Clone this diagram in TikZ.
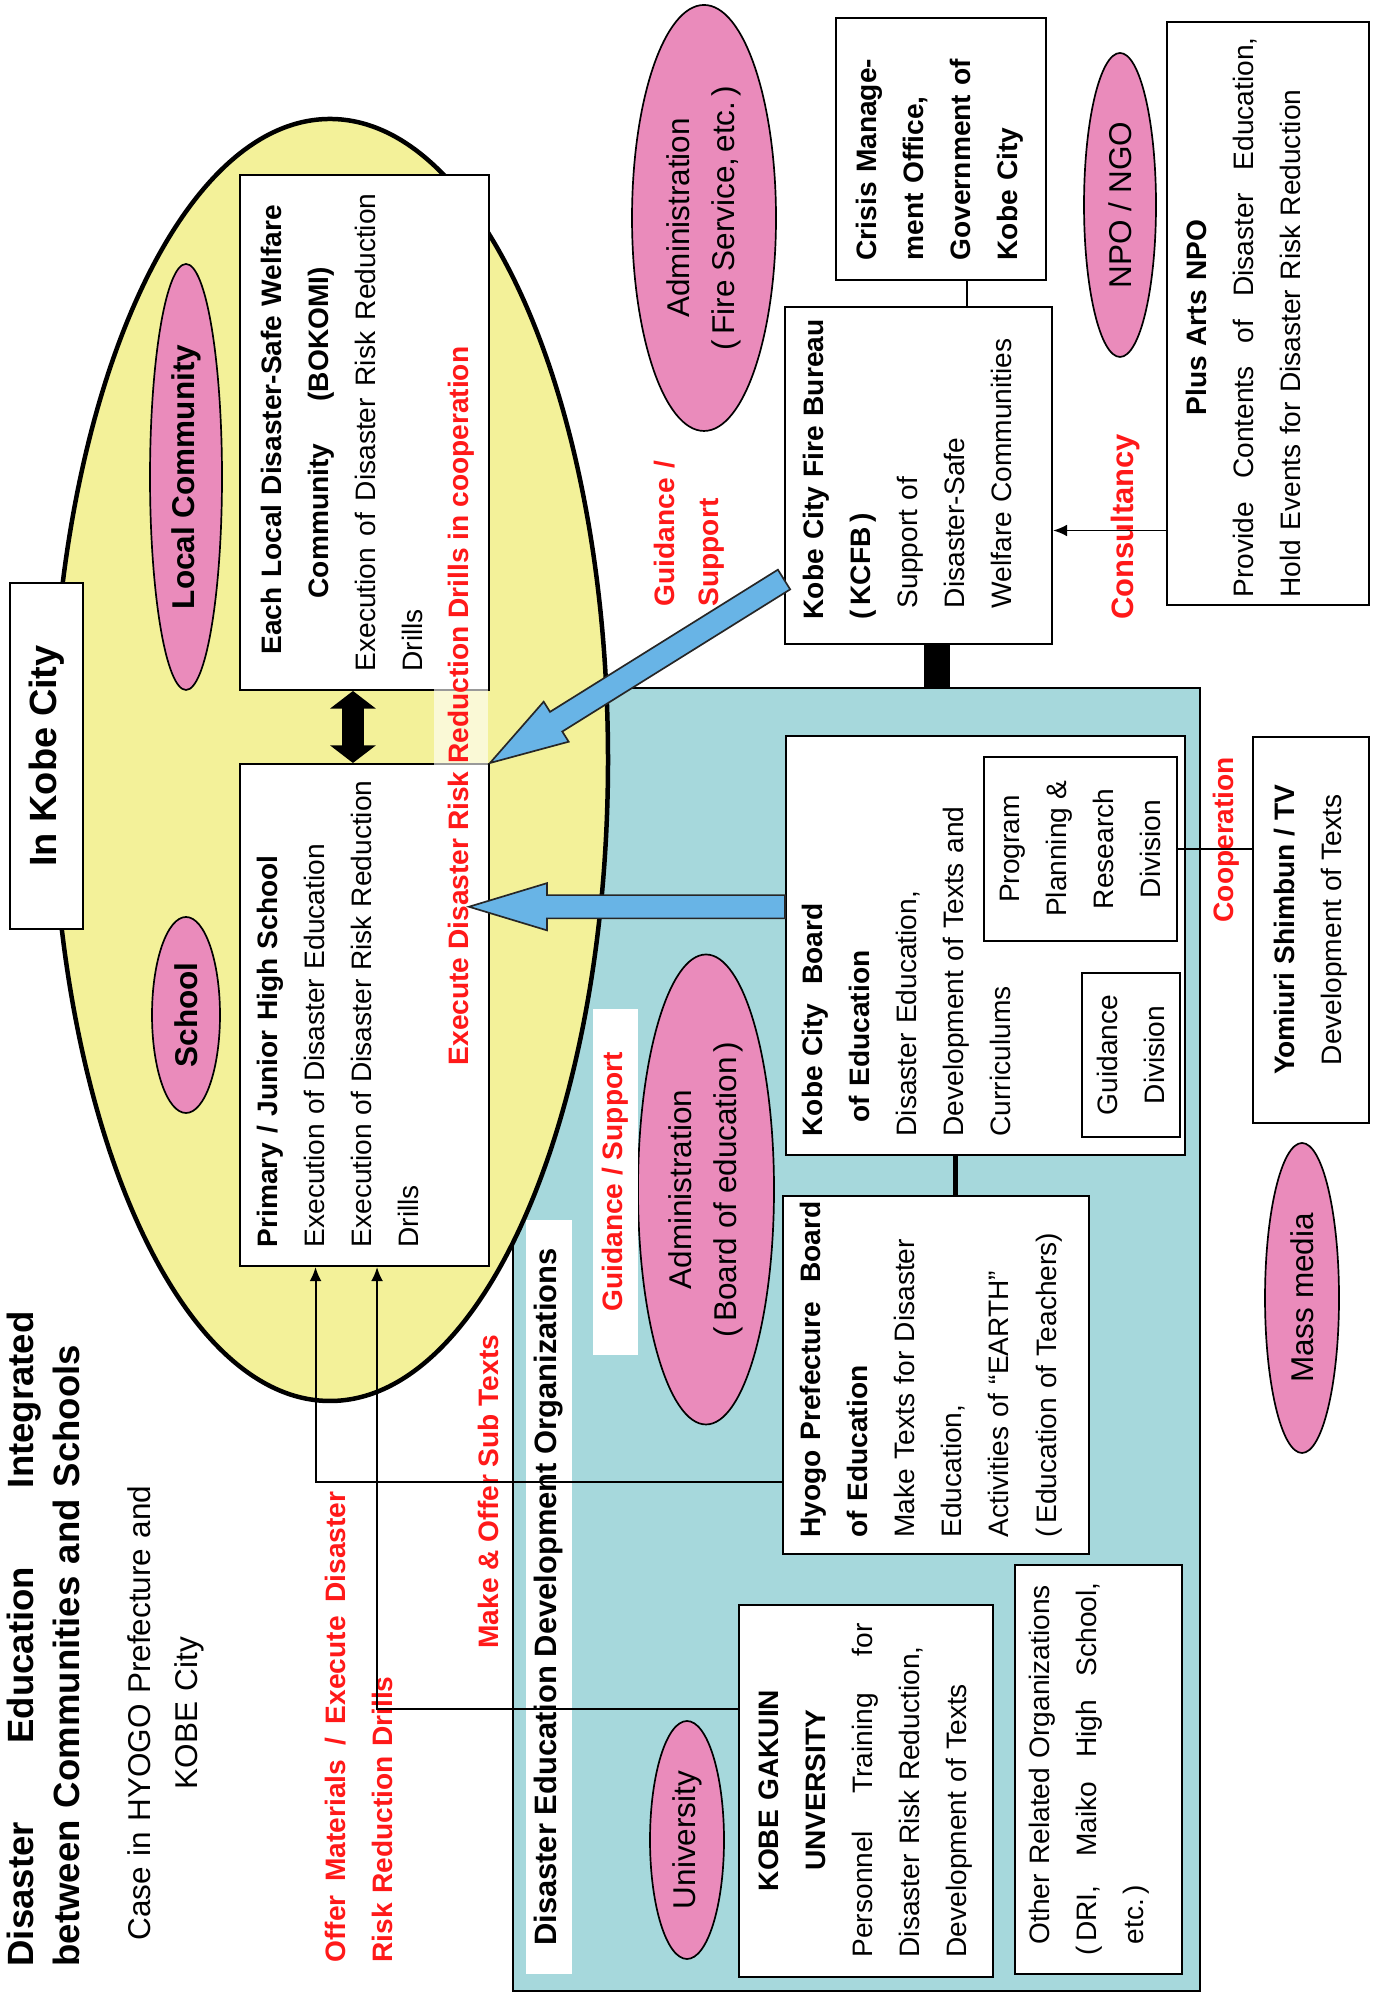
\documentclass[tikz,border=0pt]{standalone}
\usepackage{fontspec}
\setmainfont{Liberation Sans}
\usetikzlibrary{arrows.meta, shapes.geometric, calc}

\definecolor{areaYellow}{RGB}{243,241,153}
\definecolor{orgCyan}{RGB}{166,216,220}
\definecolor{rolePink}{RGB}{234,139,187}
\definecolor{arrowBlue}{RGB}{104,180,230}
\definecolor{labelRed}{RGB}{255,25,25}

\newcommand{\pxu}{0.125mm}
\newcommand{\jline}[1]{{\spaceskip=0pt\xspaceskip=0pt\makebox[\linewidth][s]{#1}}}

\tikzset{
    bodyFont/.style={font=\fontsize{10}{16.8}\selectfont},
    orgBox/.style={rectangle, draw, fill=white, line width=0.7pt, inner sep=0pt, align=center, bodyFont},
    boxText/.style={anchor=base west, inner sep=0pt, bodyFont},
    roleEll/.style={ellipse, draw, fill=rolePink, line width=0.6pt, inner sep=0pt, align=center, font=\fontsize{11.2}{16}\selectfont},
    redLabel/.style={text=labelRed, inner sep=0pt, font=\fontsize{10}{17}\selectfont\bfseries},
    thinLink/.style={line width=0.7pt},
    thinArrow/.style={thinLink, arrows={-Latex[length=5pt, width=4.2pt]}},
    thickLink/.style={line width=0.6mm},
    blockLink/.style={line width=3.25mm},
    twoWay/.style={line width=2.75mm, arrows={Triangle[length=2.2mm, width=5.6mm]-Triangle[length=2.2mm, width=5.6mm]}},
    fatArrowStyle/.style={fill=arrowBlue, draw=black!85, line width=0.6pt},
}
\newcommand{\fatArrow}[2]{
    % #1 tail, #2 tip
    \coordinate (fatHead) at ($(#2)!9.75mm!(#1)$);
    \filldraw[fatArrowStyle] ($(#1)!1.45mm!90:(#2)$) -- ($(fatHead)!1.45mm!-90:(#1)$)
        -- ($(fatHead)!2.95mm!-90:(#1)$) -- (#2) -- ($(fatHead)!2.95mm!90:(#1)$)
        -- ($(fatHead)!1.45mm!90:(#1)$) -- ($(#1)!1.45mm!-90:(#2)$) -- cycle;
}

\begin{document}
\begin{tikzpicture}[x=0.125mm, y=-0.125mm, rotate=90, transform shape]
    \useasboundingbox (0,0) rectangle (1995,1378);

    \node[draw, fill=orgCyan, line width=0.7pt, inner sep=0pt, minimum width=1303*\pxu, minimum height=687*\pxu] (orgArea) at (655.5,856.5) {};
    \node[ellipse, draw, fill=areaYellow, line width=1.6pt, inner sep=0pt, minimum width=1282*\pxu, minimum height=556*\pxu] (kobeArea) at (1235,330) {};

    \node[anchor=base west, inner sep=0pt, text width=655*\pxu, font=\fontsize{13}{16.7}\selectfont\bfseries] (title) at (28,33)
        {\jline{Disaster Education Integrated}\\between Communities and Schools};
    \node[anchor=base, inner sep=0pt, text width=470*\pxu, align=center, font=\fontsize{11.2}{16.8}\selectfont] (subtitle) at (282,150)
        {Case in HYOGO Prefecture and\\KOBE City};
    \node[orgBox, minimum width=346*\pxu, minimum height=73*\pxu, font=\fontsize{13.5}{16}\selectfont\bfseries] (inKobe) at (1239,46.5) {In Kobe City};

    \node[roleEll, minimum width=426*\pxu, minimum height=72*\pxu] (localComm) at (1518,186) {\textbf{Local Community}};
    \node[roleEll, minimum width=196*\pxu, minimum height=68*\pxu] (schoolTag) at (980,186) {\textbf{School}};
    \node[roleEll, minimum width=470*\pxu, minimum height=136*\pxu] (adminBoard) at (805.5,706) {Administration\\(\,Board of education\,)};
    \node[roleEll, minimum width=310*\pxu, minimum height=74*\pxu] (massMedia) at (697,1302) {Mass media};
    \node[roleEll, minimum width=238*\pxu, minimum height=74*\pxu] (univTag) at (155,687) {University};
    \node[roleEll, minimum width=426*\pxu, minimum height=144*\pxu] (adminFire) at (1777,704) {Administration\\(\,Fire Service,\,etc.\,)};
    \node[roleEll, minimum width=304*\pxu, minimum height=72*\pxu] (npoTag) at (1790,1120) {NPO / NGO};

    \node[orgBox, minimum width=515*\pxu, minimum height=249*\pxu] (bokomi) at (1562.5,364.5) {};
    \node[orgBox, minimum width=502*\pxu, minimum height=249*\pxu] (school) at (980,364.5) {};
    \node[orgBox, minimum width=419*\pxu, minimum height=399*\pxu] (kobeBoard) at (1049.5,985.5) {};
    \node[orgBox, minimum width=184*\pxu, minimum height=193*\pxu] (planDiv) at (1146,1080.5) {Program\\Planning \&\\Research\\Division};
    \node[orgBox, minimum width=164*\pxu, minimum height=98*\pxu] (guideDiv) at (940,1131) {Guidance\\Division};
    \node[orgBox, minimum width=386*\pxu, minimum height=116*\pxu] (yomiuri) at (1065,1311) {\textbf{Yomiuri Shimbun / TV}\\Development of Texts};
    \node[orgBox, minimum width=358*\pxu, minimum height=306*\pxu] (hyogoBoard) at (620,936) {};
    \node[orgBox, minimum width=372*\pxu, minimum height=254*\pxu] (gakuin) at (204,866) {};
    \node[orgBox, minimum width=409*\pxu, minimum height=167*\pxu] (otherOrg) at (225.5,1098.5) {};
    \node[orgBox, minimum width=262*\pxu, minimum height=210*\pxu] (crisisOffice) at (1846,941) {};
    \node[orgBox, minimum width=337*\pxu, minimum height=267*\pxu] (kcfb) at (1519.5,918.5) {};
    \node[orgBox, minimum width=583*\pxu, minimum height=202*\pxu] (plusArts) at (1681.5,1268) {};

    \node[boxText, text width=478*\pxu] (bokomiText) at (1323,281)
        {\hspace*{0.6em}\textbf{Each Local Disaster-Safe Welfare}\\
         \hspace*{2.6em}\textbf{Community\hspace{1.5em}(BOKOMI)}\\
         \jline{Execution of Disaster Risk Reduction}\\
         Drills};
    \node[boxText, text width=467*\pxu] (schoolText) at (747,277)
        {\textbf{Primary / Junior High School}\\
         Execution of Disaster Education\\
         \jline{Execution of Disaster Risk Reduction}\\
         Drills};
    \node[boxText, text width=345*\pxu] (kobeBoardText) at (858,822)
        {\textbf{Kobe City\ \ Board}\\
         \hspace*{0.5em}\textbf{of Education}\\
         Disaster Education,\\
         Development of Texts and\\
         Curriculums};
    \node[boxText, text width=345*\pxu] (hyogoText) at (457,820)
        {\textbf{Hyogo Prefecture\ \ Board}\\
         \textbf{of Education}\\
         Make Texts for Disaster\\
         Education,\\
         Activities of “EARTH”\\
         (\,Education of Teachers)};
    \node[boxText, text width=334*\pxu] (gakuinText) at (37,778)
        {\makebox[\linewidth]{\textbf{KOBE GAKUIN}}\\
         \makebox[\linewidth]{\textbf{UNVERSITY}}\\
         \jline{Personnel Training for}\\
         Disaster Risk Reduction,\\
         Development of Texts};
    \node[boxText, text width=362*\pxu] (otherText) at (50,1049)
        {Other Related Organizations\\
         \jline{\hspace*{-0.4em}(\,DRI,\, Maiko High School,}\\
         etc.\,)};
    \node[boxText, text width=240*\pxu, font=\fontsize{10}{16.8}\selectfont\bfseries] (crisisText) at (1734,876)
        {Crisis Manage-\\ment Office,\\Government of\\Kobe City};
    \node[boxText, text width=310*\pxu] (kcfbText) at (1375,823)
        {\textbf{Kobe City Fire Bureau}\\
         \textbf{(\,KCFB\,)}\\
         \hspace*{0.4em}Support of\\
         \hspace*{0.4em}Disaster-Safe\\
         \hspace*{0.4em}Welfare Communities};
    \node[boxText, text width=560*\pxu] (plusArtsText) at (1397,1206)
        {\makebox[\linewidth]{\textbf{Plus Arts NPO}}\\
         \jline{Provide Contents of Disaster Education,}\\
         Hold Events for Disaster Risk Reduction};

    \node[redLabel, fill=white, fill opacity=0.6, text opacity=1, minimum height=54*\pxu, inner xsep=3pt] (execLbl) at (1289,461) {Execute Disaster Risk Reduction Drills in cooperation};
    \node[redLabel, fill=white, minimum width=346*\pxu, minimum height=45*\pxu] (boardGuideLbl) at (813,615.5) {Guidance / Support};
    \node[redLabel, anchor=base west, text width=150*\pxu, font=\fontsize{10}{15.7}\selectfont\bfseries] (fireGuideLbl) at (1388,674) {Guidance /\\Support};
    \node[redLabel, anchor=base west, font=\fontsize{11}{16}\selectfont\bfseries] (consultLbl) at (1375,1133) {Consultancy};
    \node[redLabel, anchor=base west] (coopLbl) at (1072,1233) {Cooperation};
    \node[redLabel, anchor=base west] (makeLbl) at (346,498) {Make \& Offer Sub Texts};
    \node[redLabel, anchor=base west, text width=471*\pxu] (offerLbl) at (32,345) {\jline{Offer Materials / Execute Disaster}\\Risk Reduction Drills};
    \node[fill=white, inner sep=0pt, minimum width=754*\pxu, minimum height=46*\pxu, font=\fontsize{11}{16}\selectfont\bfseries] (orgLbl) at (398,549) {Disaster Education Development Organizations};

    % links
    \coordinate (hyogoOut) at ($(hyogoBoard.north west)!0.204!(hyogoBoard.north east)$);
    \coordinate (schoolIn1) at ($(school.north west)!0.305!(school.south west)$);
    \draw[thinArrow] (hyogoOut) |- (schoolIn1);
    \coordinate (gakuinOut) at ($(gakuin.north west)!0.718!(gakuin.north east)$);
    \coordinate (schoolIn2) at ($(school.north west)!0.55!(school.south west)$);
    \draw[thinArrow] (gakuinOut) |- (schoolIn2);
    \coordinate (boardLink) at ($(kobeBoard.north west)!0.426!(kobeBoard.south west)$);
    \draw[thickLink] (boardLink) -- (boardLink -| hyogoBoard.east);
    \draw[thinLink] (planDiv.south) -- (planDiv.south |- yomiuri.north);
    \coordinate (crisisLink) at ($(crisisOffice.north west)!0.624!(crisisOffice.south west)$);
    \draw[thinLink] (crisisLink) -- (crisisLink -| kcfb.east);
    \coordinate (kcfbLink) at ($(kcfb.north west)!0.569!(kcfb.south west)$);
    \draw[blockLink] (kcfbLink) -- (kcfbLink -| orgArea.east);
    \coordinate (plusOut) at ($(plusArts.north west)!0.129!(plusArts.north east)$);
    \draw[thinArrow] (plusOut) -- (plusOut |- kcfb.south);

    \coordinate (twoWayPt) at ($(school.north east)!0.454!(school.south east)$);
    \draw[twoWay] (twoWayPt) -- (twoWayPt -| bokomi.west);

    \coordinate (boardTail) at ($(kobeBoard.north west)!0.592!(kobeBoard.north east)$);
    \coordinate (boardTip) at ($(boardTail |- school.south)+(0,-21)$);
    \fatArrow{boardTail}{boardTip}
    \coordinate (fireTail) at ($(kcfb.north west)!0.193!(kcfb.north east)$);
    \fatArrow{fireTail}{school.south east}

\end{tikzpicture}
\end{document}
